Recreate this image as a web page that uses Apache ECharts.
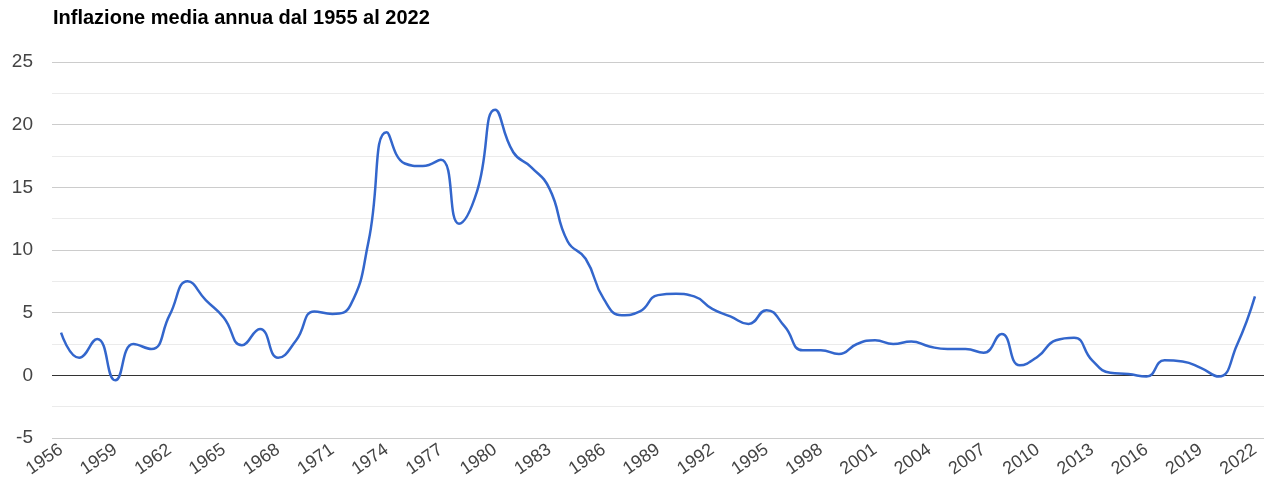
<!DOCTYPE html>
<html>
<head>
<meta charset="utf-8">
<script src="https://cdn.jsdelivr.net/npm/echarts@6/dist/echarts.min.js"></script>
<style>
html,body{margin:0;padding:0;background:#fff;}
#chart{width:1274px;height:493px;}
</style>
</head>
<body>
<div id="chart"></div>
<script>
const titleText = 'Inflazione media annua dal 1955 al 2022';
const years = [];
for (let y = 1956; y <= 2022; y++) years.push(String(y));
const inflation = [
  3.4, 1.4, 2.9, -0.4, 2.5, 2.1, 4.8, 7.5, 6.0, 4.6,
  2.4, 3.7, 1.4, 2.8, 5.1, 4.9, 5.6, 10.7, 19.4, 16.9,
  16.7, 17.2, 12.1, 14.7, 21.2, 17.8, 16.6, 14.9, 10.7, 9.3,
  6.1, 4.8, 5.1, 6.4, 6.5, 6.3, 5.3, 4.7, 4.1, 5.2,
  3.9, 2.0, 2.0, 1.7, 2.5, 2.8, 2.5, 2.7, 2.3, 2.1,
  2.1, 1.8, 3.3, 0.8, 1.5, 2.8, 3.0, 1.2, 0.2, 0.1,
  -0.1, 1.2, 1.1, 0.6, -0.1, 2.4, 6.3
];
const yTicks = { min: -5, max: 25, interval: 5 };

const chart = echarts.init(document.getElementById('chart'), null, { renderer: 'canvas' });
chart.setOption({
  animation: false,
  backgroundColor: '#fff',
  title: {
    text: titleText,
    left: 48,
    top: 3,
    textStyle: { fontFamily: 'Liberation Sans', fontWeight: 'bold', fontSize: 20, color: '#000' }
  },
  grid: { left: 52, right: 10, top: 62, bottom: 55, containLabel: false },
  xAxis: {
    type: 'category',
    data: years,
    boundaryGap: true,
    axisLine: { show: false, onZero: false },
    axisTick: { show: false },
    splitLine: { show: false },
    axisLabel: {
      interval: 2,
      rotate: 35,
      margin: 10,
      fontFamily: 'Liberation Sans',
      fontSize: 18,
      color: '#444'
    }
  },
  yAxis: {
    type: 'value',
    min: yTicks.min,
    max: yTicks.max,
    interval: yTicks.interval,
    axisLine: { show: false },
    axisTick: { show: false },
    axisLabel: {
      margin: 19,
      fontFamily: 'Liberation Sans',
      fontSize: 19,
      color: '#444'
    },
    splitLine: {
      lineStyle: { color: ['#cccccc', '#333333', '#cccccc', '#cccccc', '#cccccc', '#cccccc', '#cccccc'], width: 1 }
    },
    minorTick: { show: false, splitNumber: 2 },
    minorSplitLine: { show: true, lineStyle: { color: '#ebebeb', width: 1 } }
  },
  series: [{
    type: 'line',
    data: inflation,
    smooth: 0.5,
    showSymbol: false,
    symbol: 'none',
    lineStyle: { color: '#3366cc', width: 2.5 },
    itemStyle: { color: '#3366cc' }
  }]
});
</script>
</body>
</html>
